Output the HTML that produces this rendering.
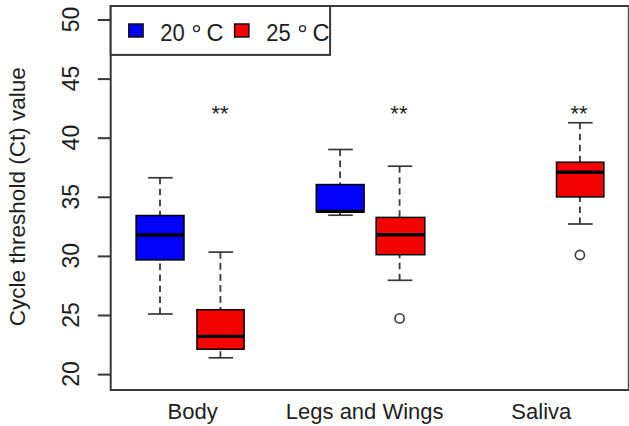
<!DOCTYPE html>
<html><head><meta charset="utf-8"><style>
html,body{margin:0;padding:0;background:#fff;width:629px;height:426px;overflow:hidden}
svg{display:block}
text{font-family:"Liberation Sans",sans-serif;fill:#1e1e1e}
</style></head><body>
<svg width="629" height="426" viewBox="0 0 629 426">
<path d="M628.8 6.0H110.7V390.0H628.8" fill="none" stroke="#363838" stroke-width="2"/>
<line x1="628.8" y1="5.0" x2="628.8" y2="391.0" stroke="#4c4e4e" stroke-width="2"/>
<line x1="97.8" y1="374.60" x2="110.7" y2="374.60" stroke="#363838" stroke-width="2"/>
<text x="0" y="0" transform="translate(78.9 374.00) rotate(-90)" text-anchor="middle" font-size="23">20</text>
<line x1="97.8" y1="315.50" x2="110.7" y2="315.50" stroke="#363838" stroke-width="2"/>
<text x="0" y="0" transform="translate(78.9 314.90) rotate(-90)" text-anchor="middle" font-size="23">25</text>
<line x1="97.8" y1="256.40" x2="110.7" y2="256.40" stroke="#363838" stroke-width="2"/>
<text x="0" y="0" transform="translate(78.9 255.80) rotate(-90)" text-anchor="middle" font-size="23">30</text>
<line x1="97.8" y1="197.30" x2="110.7" y2="197.30" stroke="#363838" stroke-width="2"/>
<text x="0" y="0" transform="translate(78.9 196.70) rotate(-90)" text-anchor="middle" font-size="23">35</text>
<line x1="97.8" y1="138.20" x2="110.7" y2="138.20" stroke="#363838" stroke-width="2"/>
<text x="0" y="0" transform="translate(78.9 137.60) rotate(-90)" text-anchor="middle" font-size="23">40</text>
<line x1="97.8" y1="79.10" x2="110.7" y2="79.10" stroke="#363838" stroke-width="2"/>
<text x="0" y="0" transform="translate(78.9 78.50) rotate(-90)" text-anchor="middle" font-size="23">45</text>
<line x1="97.8" y1="20.00" x2="110.7" y2="20.00" stroke="#363838" stroke-width="2"/>
<text x="0" y="0" transform="translate(78.9 19.40) rotate(-90)" text-anchor="middle" font-size="23">50</text>
<text x="0" y="0" transform="translate(25.3 196.75) rotate(-90)" text-anchor="middle" font-size="22.5">Cycle threshold (Ct) value</text>
<line x1="160.0" y1="177.75" x2="160.0" y2="215.5" stroke="#363838" stroke-width="1.8" stroke-dasharray="6.6 4.4"/>
<line x1="160.0" y1="314.0" x2="160.0" y2="259.9" stroke="#363838" stroke-width="1.8" stroke-dasharray="6.6 4.4"/>
<line x1="148.10" y1="177.75" x2="172.70" y2="177.75" stroke="#363838" stroke-width="1.7"/>
<line x1="148.10" y1="314.0" x2="172.70" y2="314.0" stroke="#363838" stroke-width="1.7"/>
<rect x="136.1" y="215.5" width="47.90" height="44.40" fill="#0202f8" stroke="#000" stroke-width="1.5"/>
<line x1="136.1" y1="235.0" x2="184.0" y2="235.0" stroke="#000" stroke-width="3.4"/>
<line x1="220.4" y1="252.1" x2="220.4" y2="309.7" stroke="#363838" stroke-width="1.8" stroke-dasharray="6.6 4.4"/>
<line x1="220.4" y1="357.8" x2="220.4" y2="349.2" stroke="#363838" stroke-width="1.8" stroke-dasharray="6.6 4.4"/>
<line x1="208.50" y1="252.1" x2="233.10" y2="252.1" stroke="#363838" stroke-width="1.7"/>
<line x1="208.50" y1="357.8" x2="233.10" y2="357.8" stroke="#363838" stroke-width="1.7"/>
<rect x="196.95" y="309.7" width="47.15" height="39.50" fill="#f40303" stroke="#000" stroke-width="1.5"/>
<line x1="196.95" y1="336.4" x2="244.1" y2="336.4" stroke="#000" stroke-width="3.4"/>
<line x1="340.1" y1="149.5" x2="340.1" y2="184.55" stroke="#363838" stroke-width="1.8" stroke-dasharray="6.6 4.4"/>
<line x1="340.1" y1="215.2" x2="340.1" y2="211.9" stroke="#363838" stroke-width="1.8" stroke-dasharray="6.6 4.4"/>
<line x1="328.20" y1="149.5" x2="352.80" y2="149.5" stroke="#363838" stroke-width="1.7"/>
<line x1="328.20" y1="215.2" x2="352.80" y2="215.2" stroke="#363838" stroke-width="1.7"/>
<rect x="316.3" y="184.55" width="47.80" height="27.35" fill="#0202f8" stroke="#000" stroke-width="1.5"/>
<line x1="316.3" y1="211.4" x2="364.1" y2="211.4" stroke="#000" stroke-width="3.4"/>
<line x1="399.6" y1="166.2" x2="399.6" y2="217.4" stroke="#363838" stroke-width="1.8" stroke-dasharray="6.6 4.4"/>
<line x1="399.6" y1="280.3" x2="399.6" y2="254.7" stroke="#363838" stroke-width="1.8" stroke-dasharray="6.6 4.4"/>
<line x1="387.70" y1="166.2" x2="412.30" y2="166.2" stroke="#363838" stroke-width="1.7"/>
<line x1="387.70" y1="280.3" x2="412.30" y2="280.3" stroke="#363838" stroke-width="1.7"/>
<rect x="376.15" y="217.4" width="48.65" height="37.30" fill="#f40303" stroke="#000" stroke-width="1.5"/>
<line x1="376.15" y1="234.8" x2="424.8" y2="234.8" stroke="#000" stroke-width="3.4"/>
<circle cx="399.6" cy="318.4" r="4.6" fill="none" stroke="#363838" stroke-width="1.6"/>
<line x1="579.9" y1="122.75" x2="579.9" y2="162.2" stroke="#363838" stroke-width="1.8" stroke-dasharray="6.6 4.4"/>
<line x1="579.9" y1="224.0" x2="579.9" y2="196.9" stroke="#363838" stroke-width="1.8" stroke-dasharray="6.6 4.4"/>
<line x1="568.00" y1="122.75" x2="592.60" y2="122.75" stroke="#363838" stroke-width="1.7"/>
<line x1="568.00" y1="224.0" x2="592.60" y2="224.0" stroke="#363838" stroke-width="1.7"/>
<rect x="556.5" y="162.2" width="47.35" height="34.70" fill="#f40303" stroke="#000" stroke-width="1.5"/>
<line x1="556.5" y1="172.3" x2="603.85" y2="172.3" stroke="#000" stroke-width="3.4"/>
<circle cx="579.9" cy="255.0" r="4.6" fill="none" stroke="#363838" stroke-width="1.6"/>
<text x="220.1" y="121" text-anchor="middle" font-size="22" fill="#374043">**</text>
<text x="398.9" y="121" text-anchor="middle" font-size="22" fill="#374043">**</text>
<text x="579.0" y="121" text-anchor="middle" font-size="22" fill="#374043">**</text>
<text x="192.6" y="418.9" text-anchor="middle" font-size="22">Body</text>
<text x="364.7" y="418.9" text-anchor="middle" font-size="22">Legs and Wings</text>
<text x="541.3" y="418.9" text-anchor="middle" font-size="22">Saliva</text>
<rect x="110.7" y="6.0" width="219.40" height="48.90" fill="#fff" stroke="#363838" stroke-width="2"/>
<rect x="128.8" y="24.0" width="14.3" height="13.0" fill="#0202f8" stroke="#111" stroke-width="1.5"/>
<rect x="234.6" y="24.0" width="14.3" height="13.0" fill="#f40303" stroke="#111" stroke-width="1.5"/>
<g transform="translate(160.2 40.5) scale(1 1.06)"><text x="0" y="0" font-size="22">20</text></g>
<circle cx="196.50" cy="28.6" r="3.0" fill="none" stroke="#2a2a2a" stroke-width="1.4"/>
<g transform="translate(206.60 40.5) scale(1.07 1.06)"><text x="0" y="0" font-size="22">C</text></g>
<g transform="translate(266.2 40.5) scale(1 1.06)"><text x="0" y="0" font-size="22">25</text></g>
<circle cx="302.50" cy="28.6" r="3.0" fill="none" stroke="#2a2a2a" stroke-width="1.4"/>
<g transform="translate(312.60 40.5) scale(1.07 1.06)"><text x="0" y="0" font-size="22">C</text></g>
</svg>
</body></html>
